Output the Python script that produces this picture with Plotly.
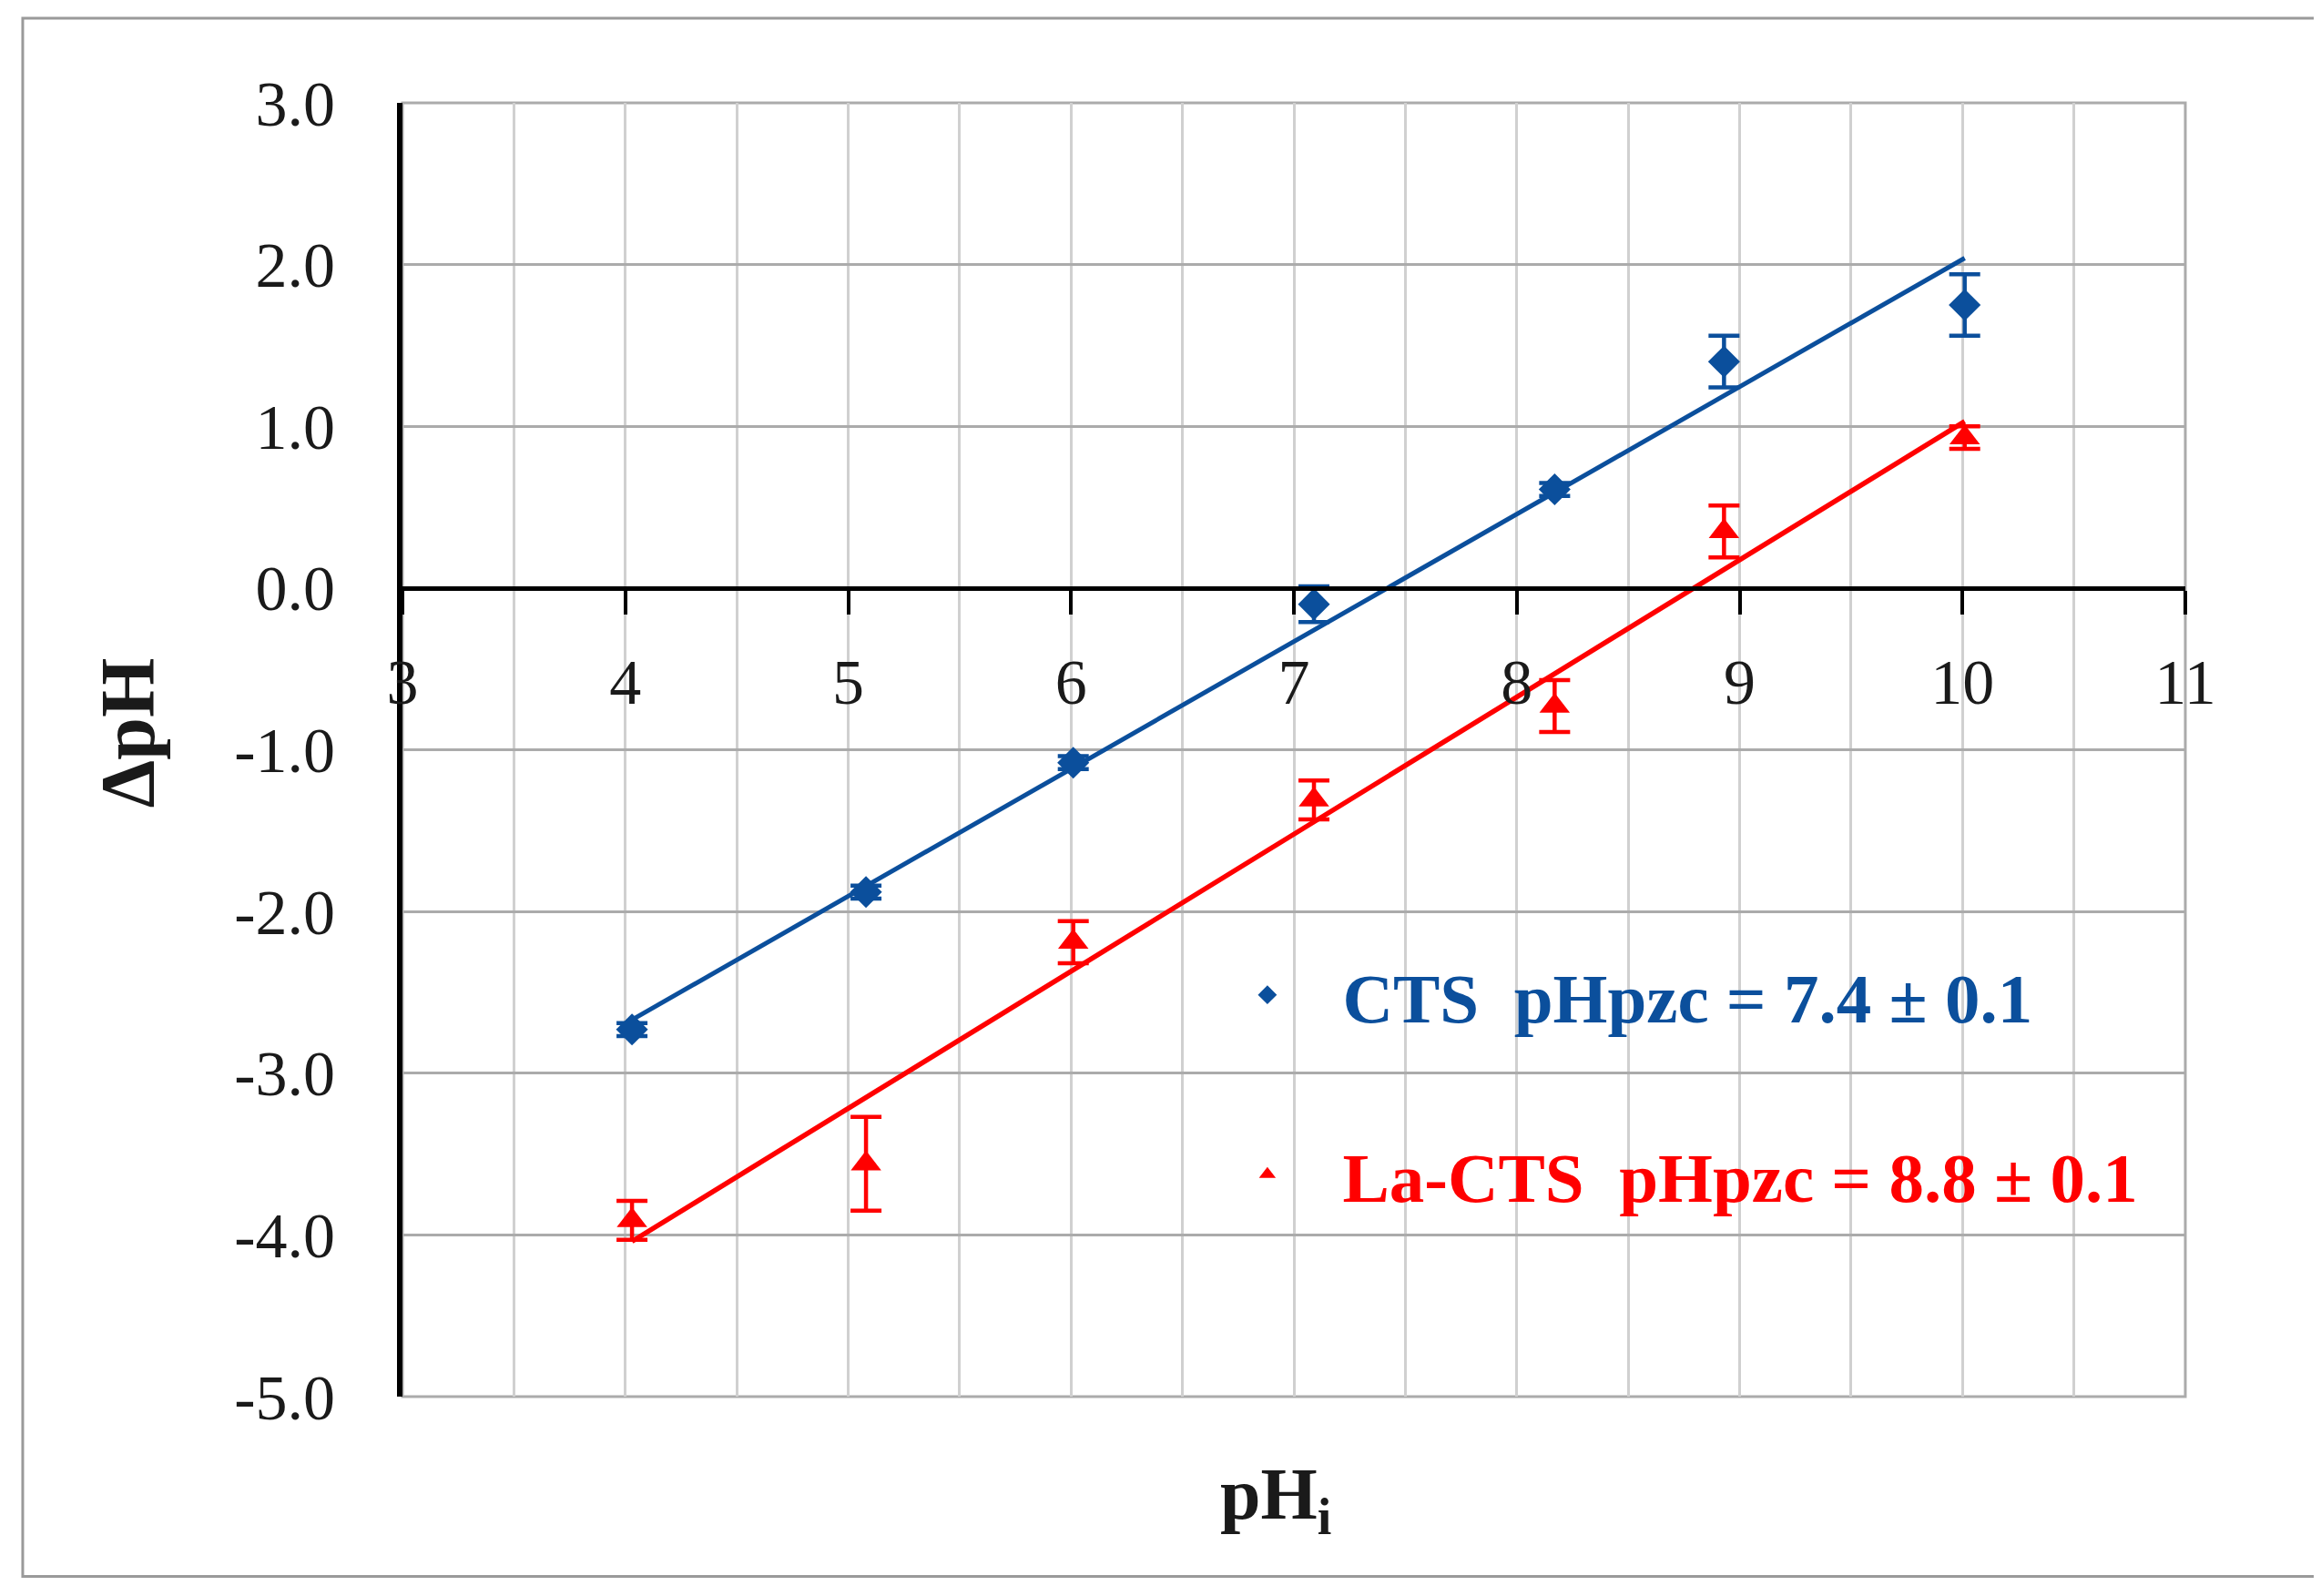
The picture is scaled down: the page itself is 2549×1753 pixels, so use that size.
import plotly.graph_objects as go

# point of zero charge titration, initial pH vs. delta pH
ph_initial = [4.03, 5.08, 6.01, 7.09, 8.17, 8.93, 10.01]
cts_dph = [-2.73, -1.88, -1.08, -0.10, 0.61, 1.40, 1.75]
cts_err = [0.04, 0.04, 0.04, 0.11, 0.04, 0.16, 0.19]
lacts_dph = [-3.91, -3.56, -2.19, -1.31, -0.73, 0.35, 0.93]
lacts_err = [0.12, 0.29, 0.13, 0.12, 0.16, 0.16, 0.07]

# linear trendlines (end points)
fit_x = [4.03, 10.01]
cts_fit = [-2.67, 2.04]
lacts_fit = [-4.04, 1.03]

x_ticks = [3, 4, 5, 6, 7, 8, 9, 10, 11]
y_ticks = [3, 2, 1, 0, -1, -2, -3, -4, -5]
y_labels = ["3.0", "2.0", "1.0", "0.0", "-1.0", "-2.0", "-3.0", "-4.0", "-5.0"]

BLUE = "#0B4F9C"
RED = "#FF0000"
FONT = "Liberation Serif"
INK = "#1A1A1A"

fig = go.Figure()
fig.add_trace(go.Scatter(x=fit_x, y=cts_fit, mode="lines", line={"color": BLUE, "width": 5},
                         showlegend=False, hoverinfo="skip"))
fig.add_trace(go.Scatter(x=fit_x, y=lacts_fit, mode="lines", line={"color": RED, "width": 5.5},
                         showlegend=False, hoverinfo="skip"))
fig.add_trace(go.Scatter(
    x=ph_initial, y=cts_dph, mode="markers", legendgroup="cts",
    name=f'<b><span style="color:{BLUE}">CTS  pHpzc = 7.4 ± 0.1</span></b>',
    marker={"symbol": "diamond", "size": 27, "color": BLUE},
    error_y={"type": "data", "array": cts_err, "color": BLUE, "thickness": 4.5, "width": 17},
))
fig.add_trace(go.Scatter(
    x=ph_initial, y=lacts_dph, mode="markers", legendgroup="la",
    name=f'<b><span style="color:{RED}">La-CTS  pHpzc = 8.8 ± 0.1</span></b>',
    marker={"symbol": "triangle-up", "size": 29, "color": RED},
    error_y={"type": "data", "array": lacts_err, "color": RED, "thickness": 4.5, "width": 17},
))

fig.update_xaxes(
    range=[3, 11], tickvals=x_ticks, anchor="free", position=0.625, automargin=False,
    showline=True, linecolor="black", linewidth=5,
    ticks="outside", ticklen=26, tickwidth=4, tickcolor="black", ticklabelstandoff=14,
    showgrid=True, gridcolor="#D0D0D0", gridwidth=3, zeroline=False,
    minor={"dtick": 0.5, "showgrid": True, "gridcolor": "#D0D0D0", "gridwidth": 3},
    tickfont={"family": FONT, "size": 70, "color": INK},
)
fig.update_yaxes(
    range=[-5, 3], tickvals=y_ticks, ticktext=y_labels, automargin=False,
    showline=True, linecolor="black", linewidth=6, ticks="", ticklabelstandoff=54,
    showgrid=True, gridcolor="#ABABAB", gridwidth=3, zeroline=False,
    tickfont={"family": FONT, "size": 70, "color": INK},
)

# axis titles
fig.add_annotation(text="<b>ΔpH</b>", xref="paper", yref="paper", x=-0.154, y=0.513,
                   textangle=-90, showarrow=False, xanchor="center", yanchor="middle",
                   font={"family": FONT, "size": 84, "color": INK})
fig.add_annotation(text="<b>pH<sub>i</sub></b>", xref="paper", yref="paper", x=0.49, y=-0.0796,
                   showarrow=False, xanchor="center", yanchor="middle",
                   font={"family": FONT, "size": 80, "color": INK})

# plot-area edge and outer chart frame
fig.add_shape(type="rect", xref="paper", yref="paper", x0=0, x1=1, y0=0, y1=1,
              line={"color": "#ABABAB", "width": 3}, layer="below")
fig.add_shape(type="rect", xref="paper", yref="paper", x0=-0.213, x1=1.073, y0=-0.139, y1=1.0655,
              line={"color": "#9A9A9A", "width": 3}, layer="below")

# the page body adds an 8 px offset, so the margins are trimmed by that much
fig.update_layout(
    width=2549, height=1753,
    margin={"l": 434, "r": 157, "t": 105, "b": 227},
    paper_bgcolor="white", plot_bgcolor="white",
    legend={"x": 0.443, "y": 0.3504, "xanchor": "left", "yanchor": "top",
            "bgcolor": "rgba(0,0,0,0)", "itemwidth": 155, "tracegroupgap": 94,
            "font": {"family": FONT, "size": 77}},
)

fig.write_html("out.html")
